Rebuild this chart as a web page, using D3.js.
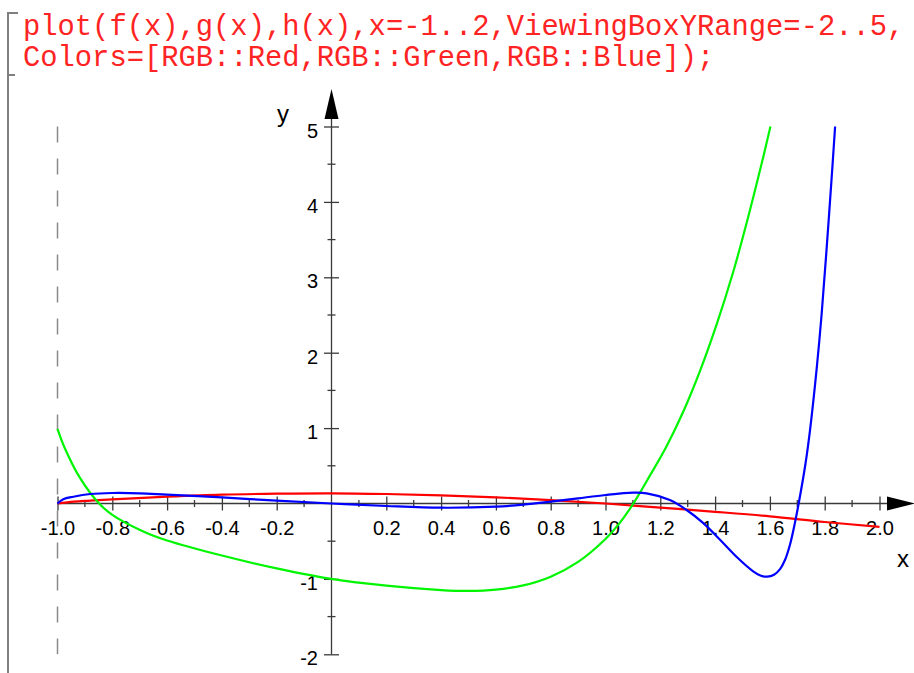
<!DOCTYPE html>
<html>
<head>
<meta charset="utf-8">
<script src="https://cdn.jsdelivr.net/npm/d3@7"></script>
<style>
  body { margin: 0; background: #fff; }
  svg { display: block; }
</style>
</head>
<body>
<div class="canvas"></div>
<script>
// command text shown above the plot
const commandLines = [
  'plot(f(x),g(x),h(x),x=-1..2,ViewingBoxYRange=-2..5,',
  'Colors=[RGB::Red,RGB::Green,RGB::Blue]);'
];

// axis ticks
const xMajor = [-1, -0.8, -0.6, -0.4, -0.2, 0.2, 0.4, 0.6, 0.8, 1.0, 1.2, 1.4, 1.6, 1.8, 2.0];
const xMinor = [-0.9, -0.7, -0.5, -0.3, -0.1, 0.1, 0.3, 0.5, 0.7, 0.9, 1.1, 1.3, 1.5, 1.7, 1.9];
const yMajor = [-2, -1, 1, 2, 3, 4, 5];
const yMinor = [-1.5, -0.5, 0.5, 1.5, 2.5, 3.5, 4.5];

// series, [x, y]
const redPoints = [
  [-1, 0], [-0.94, 0.024], [-0.88, 0.038], [-0.8, 0.056], [-0.6, 0.09], [-0.4, 0.117],
  [-0.2, 0.13], [0, 0.135], [0.2, 0.126], [0.4, 0.109], [0.6, 0.082], [0.8, 0.046],
  [1.0, 0.0], [1.2, -0.055], [1.4, -0.11], [1.6, -0.17], [1.8, -0.245], [2.0, -0.31]
];
const greenPoints = [
  [-1, 0.99], [-0.974, 0.74], [-0.918, 0.34], [-0.848, 0], [-0.8, -0.15], [-0.687, -0.37],
  [-0.6, -0.49], [-0.4, -0.69], [-0.2, -0.86], [0, -1.0], [0.2, -1.09], [0.4, -1.148],
  [0.5, -1.16], [0.6, -1.143], [0.7, -1.086], [0.8, -0.97], [0.9, -0.774], [1.0, -0.47],
  [1.05, -0.267], [1.1, -0.01], [1.162, 0.37], [1.223, 0.76], [1.284, 1.22], [1.345, 1.76],
  [1.406, 2.38], [1.466, 3.07], [1.515, 3.72], [1.576, 4.6], [1.602, 5.0]
];
const bluePoints = [
  [-1, 0], [-0.979, 0.056], [-0.942, 0.09], [-0.88, 0.126], [-0.8, 0.139], [-0.7, 0.135],
  [-0.6, 0.117], [-0.4, 0.082], [-0.2, 0.037], [0, 0], [0.2, -0.033], [0.4, -0.056],
  [0.6, -0.042], [0.7, -0.016], [0.8, 0.024], [0.9, 0.069], [1.0, 0.113], [1.1, 0.143],
  [1.15, 0.135], [1.235, 0.046], [1.296, -0.086], [1.357, -0.26], [1.418, -0.48],
  [1.479, -0.71], [1.539, -0.90], [1.565, -0.955], [1.59, -0.97], [1.615, -0.945],
  [1.637, -0.87], [1.655, -0.75], [1.673, -0.55], [1.69, -0.28], [1.705, 0], [1.73, 0.53],
  [1.746, 0.96], [1.771, 1.8], [1.789, 2.52], [1.807, 3.38], [1.825, 4.3], [1.838, 5.0]
];

const width = 914;
const height = 673;
const axisColor = '#3a3a3a';
const labelFont = '"Liberation Sans", Arial, sans-serif';

const svg = d3.select('.canvas')
  .append('svg')
  .attr('width', width)
  .attr('height', height);

// bracket on the left
svg.append('path')
  .attr('d', 'M18,13H8V673M8,75H15')
  .attr('fill', 'none')
  .attr('stroke', '#7f7f7f')
  .attr('stroke-width', 2);

svg.append('g').selectAll('text')
  .data(commandLines)
  .enter().append('text')
  .attr('x', 23)
  .attr('y', (d, i) => 35 + i * 31)
  .attr('font-family', '"Liberation Mono", "DejaVu Sans Mono", monospace')
  .attr('font-size', 28.8)
  .attr('fill', '#ff2424')
  .text(d => d);

const x = d3.scaleLinear().domain([-1, 2]).range([57.5, 879.5]);
const y = d3.scaleLinear().domain([-2, 5]).range([654.3, 126.5]);

const graph = svg.append('g');

// dashed line at the left end of the range
graph.append('line')
  .attr('x1', x(-1)).attr('x2', x(-1))
  .attr('y1', y(5)).attr('y2', y(-2))
  .attr('stroke', '#8a8a8a')
  .attr('stroke-width', 1.5)
  .attr('stroke-dasharray', '16,16');

// x axis
const xAxisGroup = graph.append('g').attr('transform', `translate(0, ${y(0)})`);
xAxisGroup.call(d3.axisBottom(x).tickValues(xMajor).tickFormat(d => d.toFixed(1)));
xAxisGroup.select('.domain').remove();
xAxisGroup.selectAll('.tick line')
  .attr('y1', -7).attr('y2', 7)
  .attr('stroke', axisColor).attr('stroke-width', 1.3);
xAxisGroup.selectAll('.tick text')
  .attr('y', 31).attr('dy', null)
  .attr('fill', '#000')
  .attr('font-family', labelFont)
  .attr('font-size', 20);
xAxisGroup.selectAll('line.minor')
  .data(xMinor)
  .enter().append('line')
  .attr('class', 'minor')
  .attr('x1', d => x(d)).attr('x2', d => x(d))
  .attr('y1', -3.5).attr('y2', 3.5)
  .attr('stroke', axisColor).attr('stroke-width', 1.3);
xAxisGroup.append('line')
  .attr('x1', x(-1)).attr('x2', x(2) + 8)
  .attr('stroke', axisColor).attr('stroke-width', 1.3);
xAxisGroup.append('path')
  .attr('d', `M${x(2) + 7.5},-7L${x(2) + 36},0L${x(2) + 7.5},7Z`)
  .attr('fill', '#000');

// y axis
const yAxisGroup = graph.append('g').attr('transform', `translate(${x(0)}, 0)`);
yAxisGroup.call(d3.axisLeft(y).tickValues(yMajor).tickFormat(d => String(d)));
yAxisGroup.select('.domain').remove();
yAxisGroup.selectAll('.tick line')
  .attr('x1', -7.5).attr('x2', 7.5)
  .attr('stroke', axisColor).attr('stroke-width', 1.3);
yAxisGroup.selectAll('.tick text')
  .attr('x', -13.5).attr('y', 10.5).attr('dy', null)
  .attr('fill', '#000')
  .attr('font-family', labelFont)
  .attr('font-size', 20);
yAxisGroup.selectAll('line.minor')
  .data(yMinor)
  .enter().append('line')
  .attr('class', 'minor')
  .attr('y1', d => y(d)).attr('y2', d => y(d))
  .attr('x1', -4).attr('x2', 4)
  .attr('stroke', axisColor).attr('stroke-width', 1.3);
yAxisGroup.append('line')
  .attr('y1', y(-2)).attr('y2', y(5) - 8)
  .attr('stroke', axisColor).attr('stroke-width', 1.3);
yAxisGroup.append('path')
  .attr('d', `M-7,${y(5) - 7.5}L0,${y(5) - 37.5}L7,${y(5) - 7.5}Z`)
  .attr('fill', '#000');

// axis names
graph.append('text')
  .attr('x', x(2) + 17.5).attr('y', y(0) + 63.5)
  .attr('font-family', labelFont)
  .attr('font-size', 24)
  .text('x');
graph.append('text')
  .attr('x', x(0) - 54.5).attr('y', y(5) - 5)
  .attr('font-family', labelFont)
  .attr('font-size', 24)
  .text('y');

// curves
const line = d3.line()
  .x(d => x(d[0]))
  .y(d => y(d[1]))
  .curve(d3.curveCatmullRom.alpha(0.5));

const series = [
  { points: redPoints, color: '#ff0000' },
  { points: greenPoints, color: '#00f500' },
  { points: bluePoints, color: '#0000ff' }
];

graph.selectAll('path.curve')
  .data(series)
  .enter().append('path')
  .attr('class', 'curve')
  .attr('fill', 'none')
  .attr('stroke', d => d.color)
  .attr('stroke-width', 2.2)
  .attr('stroke-linejoin', 'round')
  .attr('d', d => line(d.points));
</script>
</body>
</html>
